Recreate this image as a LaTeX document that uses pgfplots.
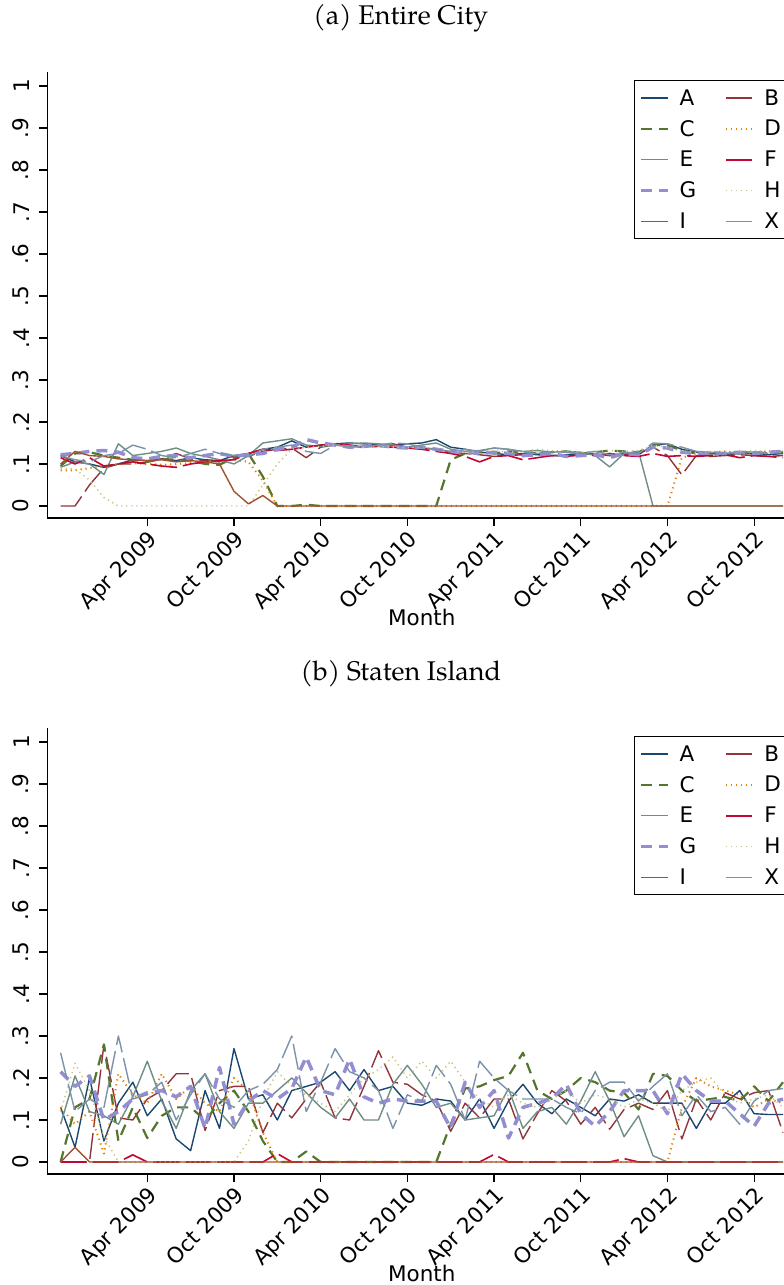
\documentclass[border=0pt]{standalone}
\usepackage{fontspec}
\setmainfont{TeX Gyre Pagella}
\newfontfamily\dejavu{DejaVu Sans}
\usepackage{pgfplots}
\usepackage{pgfplotstable}
\pgfplotsset{compat=1.18}

\definecolor{cA}{RGB}{26,71,111}
\definecolor{cB}{RGB}{144,53,59}
\definecolor{cC}{RGB}{85,117,47}
\definecolor{cD}{RGB}{227,126,0}
\definecolor{cE}{RGB}{110,142,132}
\definecolor{cF}{RGB}{193,5,52}
\definecolor{cG}{RGB}{147,141,210}
\definecolor{cH}{RGB}{202,194,126}
\definecolor{cI}{RGB}{160,82,45}
\definecolor{cX}{RGB}{123,146,168}

\pgfplotstableread{
m A B C D E F G H I X
0 .120 0 .095 .085 .092 .115 .122 .090 .100 .120
1 .105 0 .125 .085 .105 .100 .125 .088 .130 .110
2 .100 .050 .128 .090 .100 .115 .130 .062 .120 .105
3 .092 .090 .120 .095 .075 .095 .132 .020 .118 .120
4 .100 .100 .115 .100 .148 .100 .128 0 .112 .125
5 .110 .100 .110 .102 .120 .105 .115 0 .110 .145
6 .108 .105 .105 .100 .125 .100 .112 0 .108 .135
7 .112 .112 .112 .098 .130 .095 .118 0 .110 .120
8 .108 .125 .110 .100 .138 .092 .120 0 .105 .115
9 .115 .112 .108 .102 .125 .100 .115 0 .108 .125
10 .110 .108 .100 .105 .118 .105 .120 0 .105 .135
11 .108 .105 .098 .108 .110 .108 .125 0 .100 .125
12 .120 .120 .115 .110 .100 .110 .118 0 .035 .120
13 .125 .118 .125 .105 .120 .125 .122 0 .005 .118
14 .135 .130 .070 .060 .150 .135 .125 .050 .025 .135
15 .140 .135 0 0 .155 .132 .135 .100 0 .140
16 .155 .138 0 0 .160 .135 .140 .135 0 .145
17 .140 .115 .003 0 .145 .140 .158 .140 0 .130
18 .145 .140 0 0 .142 .145 .150 .142 0 .125
19 .148 .145 0 0 .145 .148 .145 .145 0 .145
20 .150 .142 0 0 .148 .145 .140 .143 0 .142
21 .148 .140 0 0 .150 .140 .142 .140 0 .140
22 .145 .145 0 0 .148 .142 .145 .142 0 .145
23 .145 .148 0 0 .145 .140 .140 .140 0 .150
24 .148 .140 0 0 .140 .138 .138 .138 0 .148
25 .150 .138 0 0 .145 .135 .140 .140 0 .140
26 .158 .135 0 0 .150 .130 .135 .136 0 .135
27 .140 .128 .110 0 .135 .125 .130 .130 0 .130
28 .135 .125 .125 0 .130 .118 .128 .128 0 .135
29 .128 .122 .128 0 .132 .105 .125 .130 0 .130
30 .125 .118 .125 0 .138 .118 .128 .132 0 .138
31 .122 .120 .130 0 .135 .120 .125 .128 0 .135
32 .125 .122 .128 0 .130 .110 .120 .130 0 .128
33 .122 .125 .125 0 .132 .115 .122 .135 0 .125
34 .120 .120 .128 0 .128 .120 .125 .132 0 .130
35 .122 .118 .130 0 .130 .118 .118 .130 0 .128
36 .125 .122 .125 0 .128 .122 .120 .128 0 .125
37 .124 .125 .128 0 .120 .120 .122 .130 0 .130
38 .120 .120 .132 0 .093 .125 .115 .132 0 .122
39 .125 .122 .130 0 .125 .120 .125 .130 0 .128
40 .122 .125 .128 0 .130 .118 .122 .132 0 .125
41 .145 .140 .145 0 0 .125 .140 .145 0 .150
42 .148 .120 .145 0 0 .118 .138 .140 0 .148
43 .135 .074 .132 .115 0 .120 .128 .130 0 .140
44 .128 .120 .125 .125 0 .118 .125 .128 0 .130
45 .125 .118 .125 .128 0 .120 .127 .130 0 .128
46 .122 .120 .122 .130 0 .122 .125 .128 0 .125
47 .125 .122 .125 .125 0 .115 .128 .130 0 .130
48 .124 .120 .128 .128 0 .120 .125 .132 0 .128
49 .122 .118 .125 .130 0 .118 .128 .130 0 .125
50 .125 .120 .128 .128 0 .115 .130 .128 0 .130
}\topdata

\pgfplotstableread{
m A B C D E F G H I X
0 .13 0 0 .13 .09 0 .215 .12 0 .26
1 .035 0 .13 .09 .205 0 .18 .235 .035 .12
2 .20 0 .15 .12 .12 0 .205 .17 0 .15
3 .05 .28 .28 .02 .11 0 .10 .06 0 .13
4 .14 .105 .05 .21 .09 0 .12 0 0 .30
5 .19 .10 .13 .16 .155 .017 .15 0 0 .15
6 .11 .15 .057 .14 .24 0 .165 0 0 .16
7 .15 .17 .11 .21 .145 0 .17 0 0 .19
8 .055 .21 .13 .15 .08 0 .155 0 0 .10
9 .027 .21 .13 .18 .17 0 .18 0 0 .16
10 .17 .075 .10 .14 .21 0 .08 0 0 .21
11 .08 .17 .14 .12 .12 0 .225 0 0 .15
12 .27 .18 .17 .20 .08 0 .09 0 0 .13
13 .15 .18 .12 .17 .14 0 .145 .05 0 .17
14 .16 .07 .05 .07 .14 0 .17 .15 0 .185
15 .10 .14 0 0 .17 .02 .15 .215 0 .22
16 .17 .105 0 0 .20 0 .175 .18 0 .30
17 .18 .15 .025 0 .165 0 .25 .16 0 .12
18 .19 .19 0 0 .13 0 .17 .14 0 .19
19 .215 .105 0 0 .105 0 .16 .12 0 .27
20 .17 .10 0 0 .15 0 .245 .16 0 .215
21 .22 .18 0 0 .10 0 .155 .20 0 .20
22 .17 .265 0 0 .10 0 .14 .22 0 .17
23 .18 .19 0 0 .185 0 .15 .25 0 .08
24 .14 .185 0 0 .23 0 .145 .20 0 .16
25 .135 .16 0 0 .185 0 .145 .24 0 .145
26 .15 .145 0 0 .13 0 .145 .20 0 .23
27 .145 .073 .09 0 .14 0 .08 .24 0 .185
28 .10 .14 .175 0 .10 0 .19 .19 0 .10
29 .15 .105 .18 0 .105 0 .13 .15 0 .24
30 .08 .15 .195 0 .11 .018 .17 .13 0 .20
31 .145 .15 .205 0 .175 0 .057 .16 0 .17
32 .185 .055 .26 0 .08 0 .13 .14 0 .15
33 .14 .115 .17 0 .12 0 .14 .13 0 .15
34 .115 .17 .15 0 .13 0 .15 .15 0 .15
35 .15 .145 .17 0 .09 0 .185 .17 0 .13
36 .13 .09 .20 0 .145 0 .115 .14 0 .115
37 .11 .13 .19 0 .215 0 .085 .16 0 .17
38 .15 .078 .17 0 .145 0 .12 .15 0 .19
39 .145 .125 .165 0 .06 .008 .17 .13 0 .19
40 .16 .14 .125 0 .11 0 .17 .15 0 .145
41 .14 .125 .21 0 .015 0 .17 .14 0 .18
42 .14 .17 .205 0 0 0 .115 .12 0 .21
43 .14 .055 .17 .13 0 0 .21 .17 0 .11
44 .08 .15 .145 .20 0 0 .17 .19 0 .16
45 .14 .10 .15 .18 0 0 .145 .20 0 .12
46 .14 .165 .155 .17 0 0 .145 .16 0 .13
47 .17 .15 .145 .16 0 0 .115 .14 0 .09
48 .115 .165 .18 .13 0 0 .085 .15 0 .145
49 .113 .17 .145 .15 0 0 .14 .16 0 .17
50 .113 .07 .19 .14 0 0 .15 .13 0 .175
}\botdata

\pgfplotsset{
  stA/.style={color=cA, line width=1.4pt, solid},
  stB/.style={color=cB, line width=1.4pt, dash pattern=on 26pt off 6pt},
  stC/.style={color=cC, line width=2.2pt, dash pattern=on 11pt off 7pt},
  stD/.style={color=cD, line width=2pt, dash pattern=on 1.2pt off 3.8pt},
  stE/.style={color=cE, line width=1.4pt, solid},
  stF/.style={color=cF, line width=1.6pt, dash pattern=on 26pt off 6pt},
  stG/.style={color=cG, line width=3.5pt, dash pattern=on 11pt off 7pt},
  stH/.style={color=cH, line width=1.5pt, dash pattern=on 1.2pt off 3.8pt},
  stI/.style={color=cI, line width=1.4pt, solid},
  stX/.style={color=cX, line width=1.4pt, dash pattern=on 26pt off 6pt},
  stata/.style={
    scale only axis, width=749pt, height=446pt,
    xmin=-0.92, xmax=50.92, ymin=-0.0286, ymax=1.0333,
    axis x line*=bottom, axis y line*=left,
    axis line style={line width=1.2pt, black, -},
    every outer x axis line/.append style={-},
    every outer y axis line/.append style={-},
    tick align=outside, major tick length=8pt,
    tick style={line width=1.2pt, black},
    xtick={6,12,18,24,30,36,42,48},
    xticklabels={Apr 2009,Oct 2009,Apr 2010,Oct 2010,Apr 2011,Oct 2011,Apr 2012,Oct 2012},
    ytick={0,0.1,0.2,0.3,0.4,0.5,0.6,0.7,0.8,0.9,1},
    yticklabels={0,.1,.2,.3,.4,.5,.6,.7,.8,.9,1},
    ticklabel style={font=\dejavu\fontsize{21.5}{21.5}\selectfont, black},
    xticklabel style={rotate=45, anchor=north east, inner sep=2pt},
    yticklabel style={rotate=90, anchor=south, inner sep=10pt},
    xlabel={Month},
    xlabel style={font=\dejavu\fontsize{21.5}{21.5}\selectfont, at={(axis description cs:0.5,-0.222)}, anchor=center},
    title style={font=\fontsize{27}{27}\selectfont, at={(axis description cs:0.472,1.108)}, anchor=center},
    legend columns=2,
    legend cell align=left,
    legend style={at={(1,1)}, anchor=north east, xshift=-8pt, yshift=-8pt,
      draw=black, line width=1pt, fill=white,
      font=\dejavu\fontsize{21.5}{21.5}\selectfont,
      inner xsep=5pt, inner ysep=7pt, row sep=9.5pt,
      /tikz/every odd column/.append style={column sep=8pt},
      /tikz/every even column/.append style={column sep=27pt}},
    legend image code/.code={\draw[#1] (0pt,0pt) -- (27pt,0pt);},
    every axis plot/.append style={line join=round},
  }
}

\begin{document}
\begin{tikzpicture}
\useasboundingbox (0,0) rectangle (784pt,1285pt);
\begin{axis}[stata, at={(47.3pt,767pt)}, anchor=south west, title={(a) Entire City}]
\addplot[stA] table[x=m,y=A]{\topdata}; \addlegendentry{A}
\addplot[stB] table[x=m,y=B]{\topdata}; \addlegendentry{B}
\addplot[stC] table[x=m,y=C]{\topdata}; \addlegendentry{C}
\addplot[stD] table[x=m,y=D]{\topdata}; \addlegendentry{D}
\addplot[stE] table[x=m,y=E]{\topdata}; \addlegendentry{E}
\addplot[stF] table[x=m,y=F]{\topdata}; \addlegendentry{F}
\addplot[stG] table[x=m,y=G]{\topdata}; \addlegendentry{G}
\addplot[stH] table[x=m,y=H]{\topdata}; \addlegendentry{H}
\addplot[stI] table[x=m,y=I]{\topdata}; \addlegendentry{I}
\addplot[stX] table[x=m,y=X]{\topdata}; \addlegendentry{X}
\end{axis}
\begin{axis}[stata, at={(47.3pt,111pt)}, anchor=south west, title={(b) Staten Island}]
\addplot[stA] table[x=m,y=A]{\botdata}; \addlegendentry{A}
\addplot[stB] table[x=m,y=B]{\botdata}; \addlegendentry{B}
\addplot[stC] table[x=m,y=C]{\botdata}; \addlegendentry{C}
\addplot[stD] table[x=m,y=D]{\botdata}; \addlegendentry{D}
\addplot[stE] table[x=m,y=E]{\botdata}; \addlegendentry{E}
\addplot[stF] table[x=m,y=F]{\botdata}; \addlegendentry{F}
\addplot[stG] table[x=m,y=G]{\botdata}; \addlegendentry{G}
\addplot[stH] table[x=m,y=H]{\botdata}; \addlegendentry{H}
\addplot[stI] table[x=m,y=I]{\botdata}; \addlegendentry{I}
\addplot[stX] table[x=m,y=X]{\botdata}; \addlegendentry{X}
\end{axis}
\end{tikzpicture}
\end{document}
